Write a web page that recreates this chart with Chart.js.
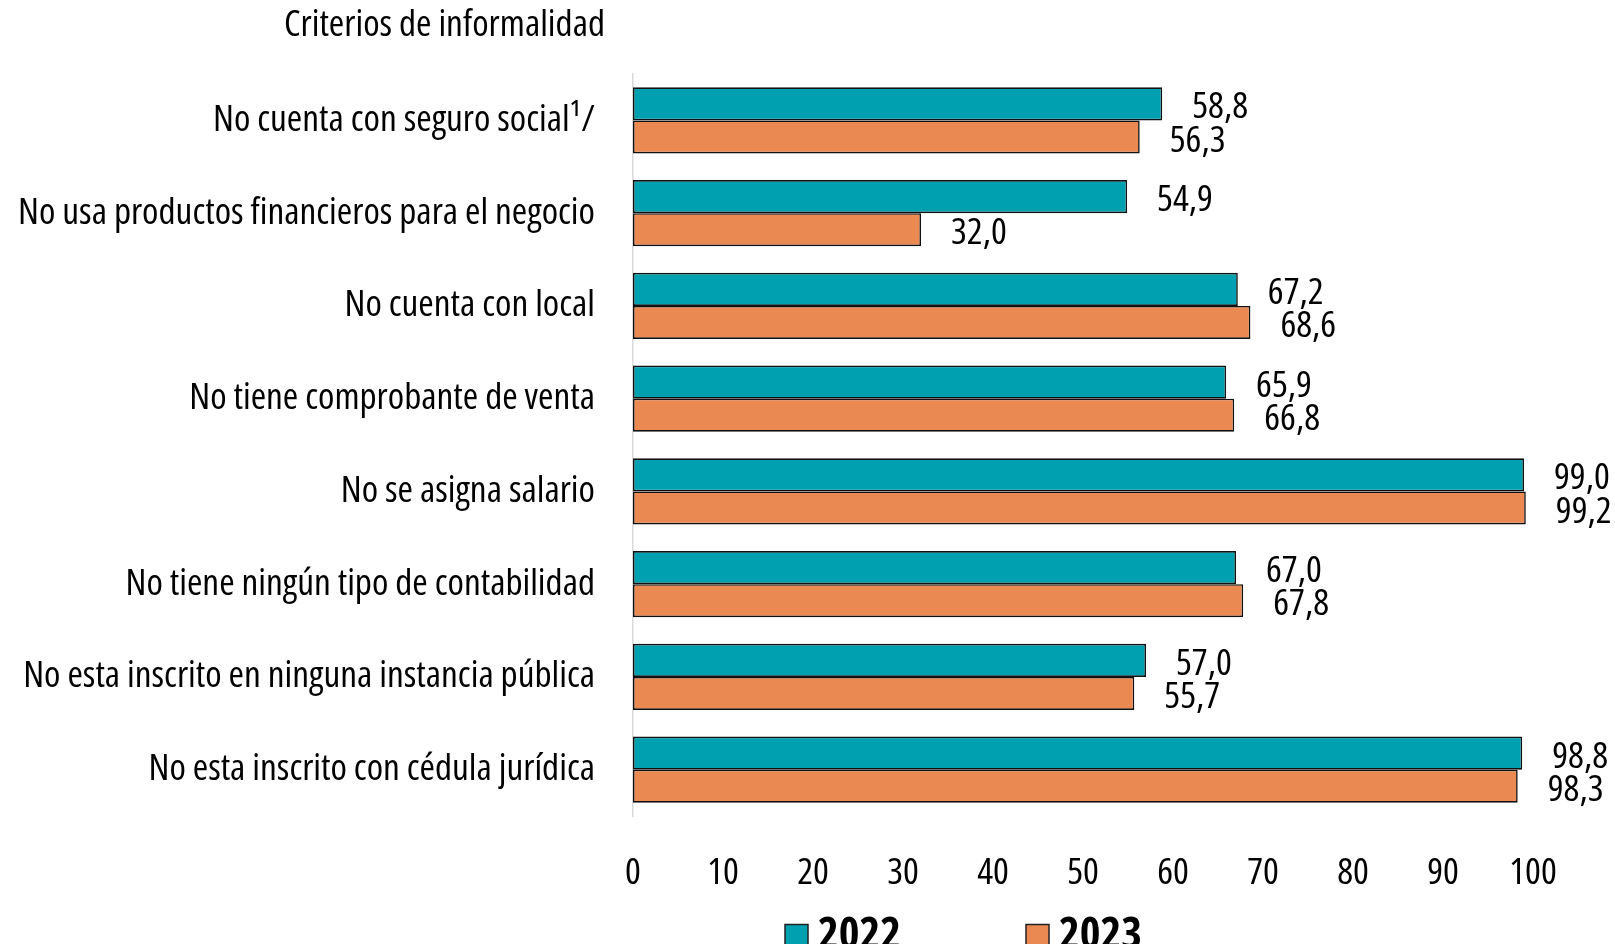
<!DOCTYPE html>
<html>
<head>
<meta charset="utf-8">
<script src="https://cdn.jsdelivr.net/npm/chart.js@4.4.1/dist/chart.umd.min.js"></script>
<style>
  html, body { margin: 0; padding: 0; background: #ffffff; }
  canvas { display: block; }
</style>
</head>
<body>
<canvas id="c" width="1615" height="944"></canvas>
<script>
// ---- data ----
const categories = [
  'No cuenta con seguro social\u00B9/',
  'No usa productos financieros para el negocio',
  'No cuenta con local',
  'No tiene comprobante de venta',
  'No se asigna salario',
  'No tiene ningún tipo de contabilidad',
  'No esta inscrito en ninguna instancia pública',
  'No esta inscrito con cédula jurídica'
];
const values2022 = [58.8, 54.9, 67.2, 65.9, 99.0, 67.0, 57.0, 98.8];
const values2023 = [56.3, 32.0, 68.6, 66.8, 99.2, 67.8, 55.7, 98.3];
const seriesNames = ['2022', '2023'];
const xTickValues = [0, 10, 20, 30, 40, 50, 60, 70, 80, 90, 100];
const axisTitle = 'Criterios de informalidad';

// ---- font selection (condensed face) ----
function pickFont() {
  const c = document.createElement('canvas').getContext('2d');
  const s = 'No esta inscrito en ninguna instancia pública';
  c.font = "40px 'Open Sans'";
  const wN = c.measureText(s).width;
  c.font = "condensed 40px 'Open Sans'";
  const wC = c.measureText(s).width;
  if (wC < wN * 0.9) return { stretch: 'condensed', family: "'Open Sans'" };
  c.font = '40px monospace';
  const wm = c.measureText(s).width;
  c.font = "40px 'Liberation Sans Narrow', monospace";
  if (Math.abs(c.measureText(s).width - wm) > 1) return { stretch: '', family: "'Liberation Sans Narrow'" };
  c.font = "40px 'DejaVu Sans Condensed', monospace";
  if (Math.abs(c.measureText(s).width - wm) > 1) return { stretch: '', family: "'DejaVu Sans Condensed'" };
  return { stretch: '', family: "'Liberation Sans'" };
}
const F = pickFont();
function weightStr(w) { return (F.stretch ? F.stretch + ' ' : '') + (w || 'normal'); }
function fontStr(size, weight) { return weightStr(weight) + ' ' + size + 'px ' + F.family; }
function fitSize(text, targetW, weight) {
  const c = document.createElement('canvas').getContext('2d');
  c.font = fontStr(40, weight);
  return 40 * targetW / c.measureText(text).width;
}
const baseSize = fitSize(categories[6], 572, 'normal');
const legendSize = fitSize('2022', 83, 'bold');
// Chart.js passes weight straight into the font string, so the stretch keyword rides along with it
const baseFont = { family: F.family, size: baseSize, weight: weightStr('normal') };

const fmt = v => v.toFixed(1).replace('.', ',');

const overlay = {
  id: 'overlay',
  afterDraw(chart) {
    const ctx = chart.ctx;
    const area = chart.chartArea;
    ctx.save();
    // axis title
    ctx.fillStyle = '#000';
    ctx.font = fontStr(baseSize, 'normal');
    ctx.textAlign = 'right';
    ctx.textBaseline = 'middle';
    ctx.fillText(axisTitle, area.left - 28, 25);
    // data labels
    ctx.textAlign = 'left';
    chart.data.datasets.forEach((ds, i) => {
      const meta = chart.getDatasetMeta(i);
      meta.data.forEach((el, j) => {
        ctx.fillText(fmt(ds.data[j]), el.x + 30, el.y + 4);
      });
    });
    // legend
    const boxSize = 23;
    const cy = 936;
    let x = area.left + 152;
    ctx.font = fontStr(legendSize, 'bold');
    chart.data.datasets.forEach((ds) => {
      ctx.fillStyle = ds.backgroundColor;
      ctx.fillRect(x, cy - boxSize / 2, boxSize, boxSize);
      ctx.strokeStyle = '#222';
      ctx.lineWidth = 1.5;
      ctx.strokeRect(x, cy - boxSize / 2, boxSize, boxSize);
      ctx.fillStyle = '#000';
      ctx.textAlign = 'left';
      ctx.fillText(ds.label, x + boxSize + 10, cy);
      x += 241;
    });
    ctx.restore();
  }
};

new Chart(document.getElementById('c'), {
  type: 'bar',
  data: {
    labels: categories,
    datasets: [
      { label: seriesNames[0], data: values2022, backgroundColor: '#00A0B0', borderColor: '#111111',
        borderWidth: 1.6, borderSkipped: false, categoryPercentage: 0.712, barPercentage: 1.0 },
      { label: seriesNames[1], data: values2023, backgroundColor: '#EB8953', borderColor: '#111111',
        borderWidth: 1.6, borderSkipped: false, categoryPercentage: 0.712, barPercentage: 1.0 }
    ]
  },
  options: {
    indexAxis: 'y',
    responsive: false,
    animation: false,
    layout: { padding: { top: 74, right: 82, left: 0, bottom: 0 } },
    plugins: { legend: { display: false }, tooltip: { enabled: false } },
    scales: {
      x: {
        min: 0, max: 100,
        afterBuildTicks: s => { s.ticks = xTickValues.map(v => ({ value: v })); },
        ticks: { color: '#000', font: baseFont, padding: 27, maxRotation: 0, autoSkip: false },
        grid: { display: false },
        border: { display: false },
        afterFit: s => { s.height = 128; }
      },
      y: {
        ticks: { color: '#000', font: baseFont, padding: 30, autoSkip: false },
        grid: { display: false },
        border: { display: true, color: '#d9d9d9', width: 1.5 },
        afterFit: s => { s.width = 633; }
      }
    }
  },
  plugins: [overlay]
});
</script>
</body>
</html>
